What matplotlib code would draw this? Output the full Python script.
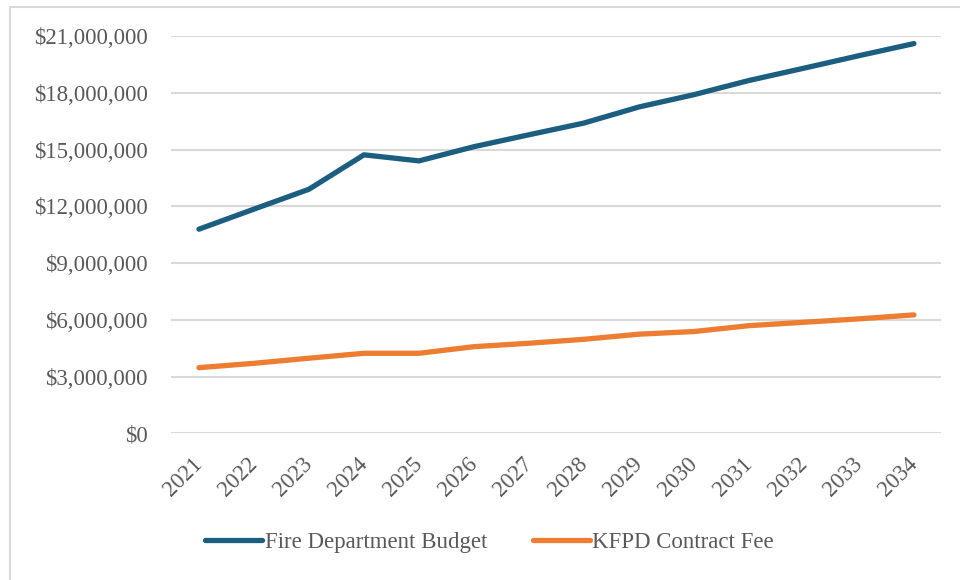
import numpy as np
import matplotlib.pyplot as plt
from matplotlib.patches import Rectangle
from matplotlib.ticker import FuncFormatter, MultipleLocator

# data
years = [str(y) for y in range(2021, 2035)]
fire_budget = [10.79, 11.85, 12.9, 14.72, 14.4, 15.15, 15.78, 16.4, 17.25,
               17.9, 18.65, 19.3, 19.96, 20.6]
kfpd_fee = [3.47, 3.7, 3.97, 4.23, 4.23, 4.58, 4.76, 4.97, 5.24,
            5.38, 5.69, 5.87, 6.05, 6.26]
fire_budget = np.array(fire_budget) * 1e6
kfpd_fee = np.array(kfpd_fee) * 1e6

BLUE = '#1B5E80'
ORANGE = '#ED7D31'
GREY = '#595959'
FS = 16.5

plt.rcParams['font.family'] = ['Liberation Serif', 'DejaVu Serif']

fig = plt.figure(figsize=(9.6, 5.8), dpi=100)
ax = fig.add_axes([0.1786, 0.2529, 0.8021, 0.685])

x = np.arange(len(years))
ax.plot(x, fire_budget, color=BLUE, lw=3.8, solid_capstyle='round',
        solid_joinstyle='round', label='Fire Department Budget')
ax.plot(x, kfpd_fee, color=ORANGE, lw=3.8, solid_capstyle='round',
        solid_joinstyle='round', label='KFPD Contract Fee')

ax.set_xlim(-0.5, len(years) - 0.5)
ax.set_ylim(0, 21e6)
ax.yaxis.set_major_locator(MultipleLocator(3e6))
ax.yaxis.set_major_formatter(FuncFormatter(lambda v, p: f"${v:,.0f}"))
ax.grid(axis='y', color='#D9D9D9', lw=1.5)
ax.set_axisbelow(True)
for s in ax.spines.values():
    s.set_visible(False)

ax.set_xticks(x)
ax.set_xticklabels(years, rotation=45, ha='right', va='center',
                   rotation_mode='anchor')
ax.tick_params(axis='both', length=0, labelsize=FS, labelcolor=GREY)
ax.tick_params(axis='y', pad=17)
ax.tick_params(axis='x', pad=20)

# outer chart border (only top/left visible in the crop)
fig.patches.append(Rectangle((10 / 960, -0.05), 1.2, 1 - 7 / 580 + 0.05,
                             transform=fig.transFigure, fill=False,
                             edgecolor='#D9D9D9', lw=1.5))

leg = fig.legend(loc='center', bbox_to_anchor=(0.51, 0.064), ncol=2,
                 frameon=False, fontsize=FS, handlelength=2.5,
                 handletextpad=0.1, columnspacing=2.0)
for t in leg.get_texts():
    t.set_color(GREY)

fig.savefig('out.png', dpi=100)
